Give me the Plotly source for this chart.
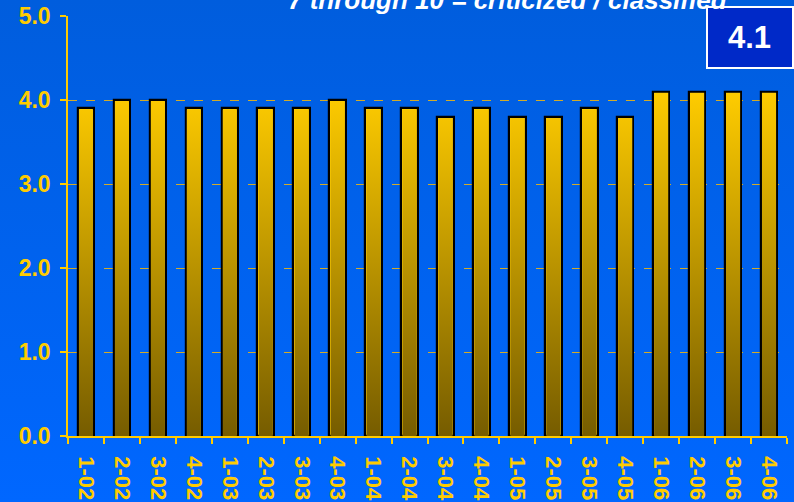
import base64
import plotly.graph_objects as go

quarters = ["1-02", "2-02", "3-02", "4-02", "1-03", "2-03", "3-03", "4-03",
            "1-04", "2-04", "3-04", "4-04", "1-05", "2-05", "3-05", "4-05",
            "1-06", "2-06", "3-06", "4-06"]
ratings = [3.9, 4.0, 4.0, 3.9, 3.9, 3.9, 3.9, 4.0, 3.9, 3.9,
           3.8, 3.9, 3.8, 3.8, 3.9, 3.8, 4.1, 4.1, 4.1, 4.1]
y_ticks = [0, 1, 2, 3, 4, 5]
y_ticktext = ["0.0", "1.0", "2.0", "3.0", "4.0", "5.0"]
title_text = "7 through 10 = criticized / classified"
latest_text = "4.1"

YELLOW = "#ffcc00"
FONT = "Liberation Sans, Arial, sans-serif"

W, H = 794, 502
ML, MR, MT, MB = 68, 7, 16, 66
PW, PH = W - ML - MR, H - MT - MB


def px_x(p):
    return (p - ML) / PW


def px_y(p):
    return (H - MB - p) / PH


svg = ('<svg xmlns="http://www.w3.org/2000/svg" width="794" height="502">'
       '<defs><linearGradient id="g" x1="0" y1="0" x2="0" y2="1">'
       '<stop offset="0" stop-color="#005ddd"/><stop offset="1" stop-color="#0067ff"/>'
       '</linearGradient></defs><rect width="794" height="502" fill="url(#g)"/></svg>')
bg_src = "data:image/svg+xml;base64," + base64.b64encode(svg.encode()).decode()

bar_w = 0.46
fig = go.Figure()
fig.add_trace(go.Bar(
    x=quarters, y=ratings, width=bar_w,
    marker=dict(color=YELLOW, line=dict(color="#000000", width=2.2)),
    hoverinfo="skip", showlegend=False,
))

# gradient fill inside each bar (computed from the data values)
hw = bar_w / 2 - 1.2 / (PW / len(quarters))
ti = 1.2 / (PH / 5)
gx, gy = [], []
for i, v in enumerate(ratings):
    gx += [i - hw, i + hw, i + hw, i - hw, i - hw, None]
    gy += [0, 0, v - ti, v - ti, 0, None]
fig.add_trace(go.Scatter(
    x=gx, y=gy, xaxis="x2", yaxis="y", mode="lines", fill="toself",
    line=dict(width=0), hoverinfo="skip", showlegend=False,
    fillgradient=dict(type="vertical", start=0, stop=max(ratings),
                      colorscale=[[0, "#765c00"], [1, YELLOW]]),
))

fig.update_layout(
    width=W, height=H,
    margin=dict(l=ML, r=MR, t=MT, b=MB, pad=0),
    paper_bgcolor="#0062ee",
    plot_bgcolor="rgba(0,0,0,0)",
    font=dict(family=FONT, color=YELLOW),
    showlegend=False,
    bargap=0,
    xaxis=dict(
        type="category", tickson="boundaries", ticks="outside", ticklen=6,
        tickcolor=YELLOW, tickwidth=1.5, showline=True, linecolor=YELLOW,
        linewidth=1.5, showgrid=False, tickangle=90, automargin=False,
        ticklabelstandoff=14,
        tickfont=dict(size=22, color=YELLOW, family=FONT, weight="bold"),
        range=[-0.5, len(quarters) - 0.5],
    ),
    xaxis2=dict(overlaying="x", anchor="y", range=[-0.5, len(quarters) - 0.5],
                visible=False),
    yaxis=dict(
        range=[0, 5], tickvals=y_ticks, ticktext=y_ticktext,
        ticks="outside", ticklen=6, tickcolor=YELLOW, tickwidth=1.5,
        showline=True, linecolor=YELLOW, linewidth=1.5, automargin=False,
        ticklabelstandoff=5,
        showgrid=True, gridcolor="#d2ab28", griddash="9px,9px", gridwidth=1,
        zeroline=False,
        tickfont=dict(size=23, color=YELLOW, family=FONT, weight="bold"),
    ),
    images=[dict(source=bg_src, xref="paper", yref="paper",
                 x=px_x(0), y=px_y(0), sizex=W / PW, sizey=H / PH,
                 xanchor="left", yanchor="top", sizing="stretch",
                 layer="below")],
    shapes=[dict(type="rect", xref="paper", yref="paper",
                 x0=px_x(707), x1=px_x(793), y0=px_y(68), y1=px_y(7),
                 fillcolor="#0029c8", line=dict(color="#ffffff", width=2),
                 layer="below")],
    annotations=[
        dict(text=f"<b><i>{title_text}</i></b>", xref="paper", yref="paper",
             x=px_x(508), y=px_y(0), xanchor="center", yanchor="middle",
             showarrow=False,
             font=dict(size=26, color="#ffffff", family=FONT)),
        dict(text=f"<b>{latest_text}</b>", xref="paper", yref="paper",
             x=px_x(749), y=px_y(37), xanchor="center", yanchor="middle",
             showarrow=False,
             font=dict(size=31, color="#ffffff", family=FONT)),
    ],
)

fig.write_html("out.html")
